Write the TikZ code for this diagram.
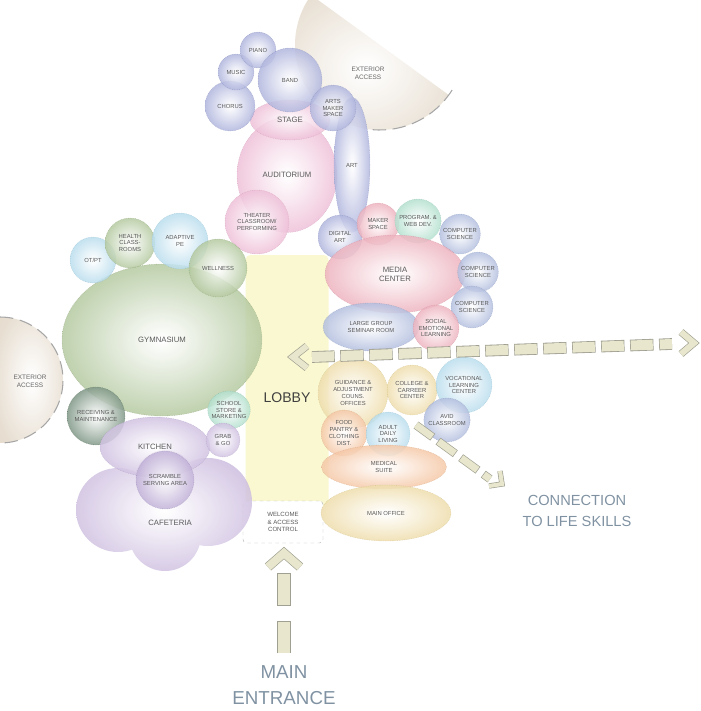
\documentclass[tikz,border=0pt]{standalone}
\usepackage{fontspec}
\setmainfont{Liberation Sans}
\usepackage{tikz}
\usepackage{xcolor}
\usetikzlibrary{shapes.geometric}

\definecolor{musc}{RGB}{136,144,204}
\definecolor{audi}{RGB}{230,160,196}
\definecolor{medi}{RGB}{228,140,158}
\definecolor{blu}{RGB}{140,158,206}
\definecolor{lblu}{RGB}{150,204,228}
\definecolor{teal}{RGB}{140,208,182}
\definecolor{gym}{RGB}{142,174,112}
\definecolor{dgrn}{RGB}{62,98,72}
\definecolor{caf}{RGB}{184,162,210}
\definecolor{dcaf}{RGB}{162,138,196}
\definecolor{tan}{RGB}{230,204,130}
\definecolor{orng}{RGB}{240,172,122}
\definecolor{extc}{RGB}{218,204,184}
\definecolor{lobc}{RGB}{250,248,208}
\definecolor{arrfill}{RGB}{232,230,204}
\definecolor{arrline}{RGB}{160,160,146}
\definecolor{outtxt}{RGB}{128,146,162}
\colorlet{bubcol}{gray}
\pgfdeclareradialshading[bubcol]{bubble}{\pgfpoint{0bp}{0bp}}{color(0bp)=(white); color(5bp)=(bubcol!12!white); color(30bp)=(bubcol!80!white); color(50bp)=(bubcol)}

\begin{document}
\begin{tikzpicture}[x=0.3mm, y=-0.3mm,
	bub/.style={ellipse, shade, shading=bubble, /utils/exec={\colorlet{bubcol}{#1}},
		draw=#1!80!black, draw opacity=0.5, dash pattern=on 0.6pt off 0.9pt, line width=0.3pt,
		fill opacity=0.85, text opacity=1, inner sep=-2pt, align=center, text=black!65,
		font=\fontsize{5}{5.8}\selectfont},
	dia/.style={minimum width=#1*0.3mm, minimum height=#1*0.3mm},
	wh/.style 2 args={minimum width=#1*0.3mm, minimum height=#2*0.3mm},
	big/.style={font=\fontsize{6.6}{7.8}\selectfont},
	bandout/.style={draw=arrline, line width=#1},
	bandin/.style={draw=arrfill, line width=#1},
	outlbl/.style={text=outtxt, align=center}]
	\useasboundingbox (0,0) rectangle (701,711);

	% exterior access
	\shade[shading=bubble, /utils/exec={\colorlet{bubcol}{extc}}, fill opacity=0.8] (380,45) ++(36:85) arc (36:216:85) -- cycle;
	\draw[gray!70, line width=0.9pt, dash pattern=on 4mm off 2mm] (380,45) ++(32:85) arc (32:95:85);
	\node[font=\fontsize{5.5}{6.5}\selectfont, text=black!60, align=center] (extop) at (368,73) {EXTERIOR\\ACCESS};
	\shade[shading=bubble, /utils/exec={\colorlet{bubcol}{extc}}, fill opacity=0.8] (0,317) arc (-90:90:63) -- cycle;
	\draw[gray!70, line width=0.9pt, dash pattern=on 4mm off 2mm] (0,317) arc (-90:90:63);
	\node[font=\fontsize{5.5}{6.5}\selectfont, text=black!60, align=center] (exleft) at (30,381) {EXTERIOR\\ACCESS};

	% lobby
	\node[fill=lobc, rounded corners=4pt, wh={83}{250}] (lobby) at (287,380) {};
	\node[font=\fontsize{12}{14}\selectfont, text=black!75] (lobbylbl) at (287,398) {LOBBY};
	\node[draw=gray!55, dashed, fill=white, rounded corners=3pt, wh={80}{42}, align=center,
		font=\fontsize{5.2}{6.2}\selectfont, text=black!65] (welcome) at (283,522) {WELCOME\\\& ACCESS\\CONTROL};

	% performing arts
	\node[bub=audi, wh={100}{115}, big] (auditorium) at (287,175) {AUDITORIUM};
	\node[bub=audi, wh={80}{40}, big] (stage) at (290,120) {STAGE};
	\node[bub=musc, dia=50] (chorus) at (230,106) {CHORUS};
	\node[bub=musc, dia=36] (music) at (236,72) {MUSIC};
	\node[bub=musc, dia=36] (piano) at (258,50) {PIANO};
	\node[bub=musc, dia=64] (band) at (290,80) {BAND};
	\node[bub=musc, wh={36}{135}] (art) at (352,165) {ART};
	\node[bub=musc, dia=46] (artmaker) at (333,108) {ARTS\\MAKER\\SPACE};
	\node[bub=audi, dia=64] (theater) at (257,222) {THEATER\\CLASSROOM/\\PERFORMING};
	\node[bub=musc, dia=44] (digital) at (340,237) {DIGITAL\\ART};

	% media
	\node[bub=medi, dia=42] (makerspace) at (378,224) {MAKER\\SPACE};
	\node[bub=teal, dia=44] (progweb) at (418,221) {PROGRAM. \&\\WEB DEV.};
	\node[bub=blu, dia=40] (csa) at (460,234) {COMPUTER\\SCIENCE};
	\node[bub=medi, wh={140}{78}, big] (media) at (395,274) {MEDIA\\CENTER};
	\node[bub=blu, dia=40] (csb) at (478,272) {COMPUTER\\SCIENCE};
	\node[bub=blu, dia=42] (csc) at (472,307) {COMPUTER\\SCIENCE};
	\node[bub=blu, wh={96}{48}] (seminar) at (371,327) {LARGE GROUP\\SEMINAR ROOM};
	\node[bub=medi, dia=46] (sel) at (436,328) {SOCIAL\\EMOTIONAL\\LEARNING};

	% athletics
	\node[bub=gym, wh={200}{152}, big] (gymnasium) at (162,340) {GYMNASIUM};
	\node[bub=lblu, dia=46] (otpt) at (93,260) {OT/PT};
	\node[bub=gym, dia=50] (health) at (130,243) {HEALTH\\CLASS-\\ROOMS};
	\node[bub=lblu, dia=56] (adaptive) at (180,241) {ADAPTIVE\\PE};
	\node[bub=gym, dia=58] (wellness) at (218,268) {WELLNESS};
	\node[bub=dgrn, dia=58] (receiving) at (96,416) {RECEIVING \&\\MAINTENANCE};

	% cafeteria
	\shade[shading=bubble, /utils/exec={\colorlet{bubcol}{caf}}, fill opacity=0.85]
		(118,510) circle (42) (208,502) circle (44) (165,535) circle (36) (165,480) circle (30);
	\node[big, text=black!65] (cafeteria) at (170,523) {CAFETERIA};
	\node[bub=caf, wh={110}{60}, big] (kitchen) at (155,447) {KITCHEN};
	\node[bub=dcaf, dia=58] (scramble) at (165,480) {SCRAMBLE\\SERVING AREA};
	\node[bub=teal, dia=38] (store) at (229,410) {SCHOOL\\STORE \&\\MARKETING};
	\node[bub=caf, dia=34] (grab) at (223,440) {GRAB\\\& GO};

	% student services
	\node[bub=tan, dia=70] (guidance) at (353,393) {GUIDANCE \&\\ADJUSTMENT\\COUNS.\\OFFICES};
	\node[bub=tan, dia=50] (college) at (412,390) {COLLEGE \&\\CARREER\\CENTER};
	\node[bub=lblu, dia=56] (vocational) at (464,385) {VOCATIONAL\\LEARNING\\CENTER};
	\node[bub=blu, dia=44] (avid) at (447,420) {AVID\\CLASSROOM};
	\node[bub=orng, dia=46] (food) at (344,433) {FOOD\\PANTRY \&\\CLOTHING\\DIST.};
	\node[bub=lblu, dia=44] (adult) at (388,434) {ADULT\\DAILY\\LIVING};
	\node[bub=orng, wh={125}{44}] (medical) at (384,467) {MEDICAL\\SUITE};
	\node[bub=tan, wh={130}{56}] (mainoffice) at (386,513) {MAIN OFFICE};

	% arrows
	\coordinate (hl) at (312,357);
	\coordinate (hr) at (672,344);
	\draw[bandout=3.5mm, dash pattern=on 7mm off 1.7mm, dash phase=0.2mm] (hl) -- (hr);
	\draw[bandin=3mm, dash pattern=on 6.6mm off 2.1mm] (hl) -- (hr);
	\coordinate (lha) at (307,346); \coordinate (lht) at (293,357); \coordinate (lhb) at (307,368);
	\coordinate (rha) at (681,332); \coordinate (rht) at (694,343); \coordinate (rhb) at (681,354);
	\draw[bandout=2.2mm, line join=miter] (lha) -- (lht) -- (lhb);
	\draw[bandin=1.8mm, line join=miter] (lha) -- (lht) -- (lhb);
	\draw[bandout=2.2mm, line join=miter] (rha) -- (rht) -- (rhb);
	\draw[bandin=1.8mm, line join=miter] (rha) -- (rht) -- (rhb);

	\coordinate (ds) at (416,425);
	\coordinate (de) at (490,479);
	\draw[bandout=2.5mm, dash pattern=on 6.4mm off 2mm, dash phase=0.2mm] (ds) -- (de);
	\draw[bandin=2.1mm, dash pattern=on 6mm off 2.4mm] (ds) -- (de);
	\coordinate (dha) at (489,486); \coordinate (dht) at (502,484); \coordinate (dhb) at (500,471);
	\draw[bandout=1.6mm, line join=miter] (dha) -- (dht) -- (dhb);
	\draw[bandin=1.2mm, line join=miter] (dha) -- (dht) -- (dhb);

	\coordinate (es) at (284,653);
	\coordinate (ee) at (284,572);
	\draw[bandout=4mm, dash pattern=on 9.7mm off 4.7mm, dash phase=0.2mm] (es) -- (ee);
	\draw[bandin=3.6mm, dash pattern=on 9.3mm off 5.1mm] (es) -- (ee);
	\coordinate (eha) at (268,567); \coordinate (eht) at (284,553); \coordinate (ehb) at (300,567);
	\draw[bandout=2.8mm, line join=miter] (eha) -- (eht) -- (ehb);
	\draw[bandin=2.4mm, line join=miter] (eha) -- (eht) -- (ehb);

	% labels
	\node[outlbl, font=\fontsize{12.5}{18}\selectfont] (lifeskills) at (577,511) {CONNECTION\\TO LIFE SKILLS};
	\node[outlbl, font=\fontsize{16}{22}\selectfont] (entrance) at (284,685) {MAIN\\ENTRANCE};
\end{tikzpicture}
\end{document}
